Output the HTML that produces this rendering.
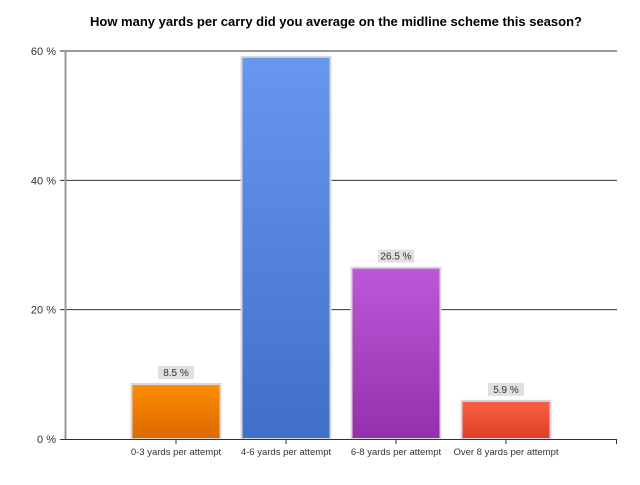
<!DOCTYPE html>
<html><head><meta charset="utf-8"><style>
body{margin:0;background:#fff;font-family:"Liberation Sans",Arial,sans-serif}
svg text{font-family:"Liberation Sans",Arial,sans-serif}
</style></head><body>
<svg id="chart" width="640" height="480" xmlns="http://www.w3.org/2000/svg">
<defs>
<linearGradient id="g0" x1="0" y1="0" x2="0" y2="1"><stop offset="0" stop-color="#ff8c00"/><stop offset="1" stop-color="#dc6a00"/></linearGradient>
<linearGradient id="g1" x1="0" y1="0" x2="0" y2="1"><stop offset="0" stop-color="#6797ee"/><stop offset="1" stop-color="#3f6fc8"/></linearGradient>
<linearGradient id="g2" x1="0" y1="0" x2="0" y2="1"><stop offset="0" stop-color="#bd58d8"/><stop offset="1" stop-color="#9430ad"/></linearGradient>
<linearGradient id="g3" x1="0" y1="0" x2="0" y2="1"><stop offset="0" stop-color="#fb6048"/><stop offset="1" stop-color="#dc4024"/></linearGradient>
</defs>
<text x="336" y="26" text-anchor="middle" font-size="13" font-weight="bold" fill="#000">How many yards per carry did you average on the midline scheme this season?</text>
</svg>
<script>
const categories=["0-3 yards per attempt","4-6 yards per attempt","6-8 yards per attempt","Over 8 yards per attempt"];
const values=[8.5,59.1,26.5,5.9];
const showLabel=[true,false,true,true];
const ticks=[0,20,40,60];
const svg=document.getElementById('chart');
const NS='http://www.w3.org/2000/svg';
const x0=66,band=110,y0=439,yTop=51,ymax=60;
const y=v=>y0-(v/ymax)*(y0-yTop);
const xc=i=>x0+band*(i+1);
function mk(t,a){const e=document.createElementNS(NS,t);for(const k in a)e.setAttribute(k,a[k]);svg.appendChild(e);return e;}
ticks.forEach(t=>{
  if(t>0){const l=mk('line',{x1:60,x2:617,y1:y(t),y2:y(t),stroke:'#333','stroke-width':1});
  
  }
  const tx=mk('text',{x:56,y:y(t)+4,'text-anchor':'end','font-size':11,fill:'#333'});
  tx.textContent=t+' %';
  
  
});
const ax=mk('line',{x1:65.5,x2:65.5,y1:yTop+1,y2:y0,stroke:'#999','stroke-width':2});


values.forEach((v,i)=>{
  const cx=xc(i),w=89;
  const r=mk('rect',{x:cx-w/2,y:y(v),width:w,height:y0-y(v),fill:'url(#g'+i+')',stroke:'#d8d8d8','stroke-width':2});
  
  
  if(showLabel[i]){
    const bg=mk('rect',{x:cx-18,y:y(v)-18,width:36,height:13,fill:'#e0e0e0'});
    
    
    const t=mk('text',{x:cx,y:y(v)-8,'text-anchor':'middle','font-size':10,fill:'#333'});
    t.textContent=v+' %';
    
    
  }
  const tk=mk('line',{x1:cx,x2:cx,y1:y0,y2:y0+5,stroke:'#333'});
  
  
  const lb=mk('text',{x:cx,y:y0+16,'text-anchor':'middle','font-size':9.5,fill:'#333'});
  lb.textContent=categories[i];
  
  
});
const xa=mk('line',{x1:60,x2:617,y1:y0+0.5,y2:y0+0.5,stroke:'#333'});


const et=mk('line',{x1:616.5,x2:616.5,y1:y0,y2:y0+5,stroke:'#333'});


</script>
</body></html>
